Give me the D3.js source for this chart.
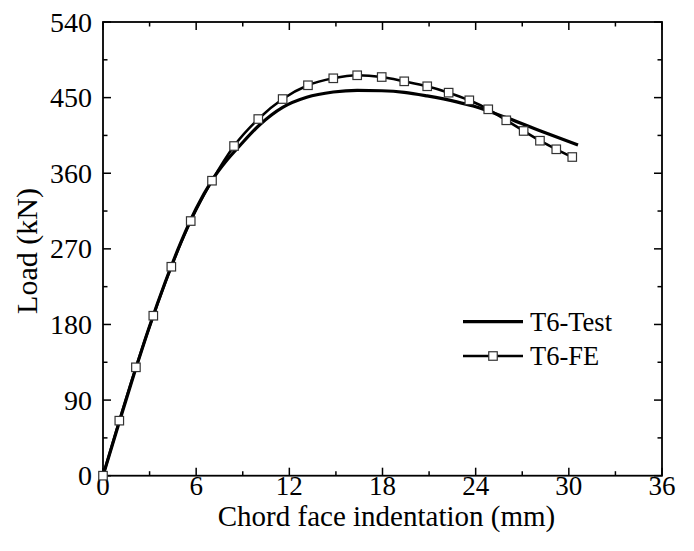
<!DOCTYPE html>
<html>
<head>
<meta charset="utf-8">
<script src="https://cdn.jsdelivr.net/npm/d3@7"></script>
<style>
  html, body { margin: 0; padding: 0; background: #fff; }
  svg { display: block; }
</style>
</head>
<body>
<div id="chart"></div>
<script>
// T6 test curve (mm, kN)
const testX = [0, 1, 2, 3, 4, 5, 6, 7, 8, 8.82, 10.11, 11.57, 13.12, 14.83, 16.37, 17.95, 19.4, 20.88, 22.78, 23.84, 25.99, 28.14, 30.59];
const testY = [0, 61, 121, 178, 230, 277, 318, 351, 376, 393, 418, 438.5, 450.5, 456.7, 458.7, 458.2, 456.3, 452, 445, 440, 426, 410.6, 393.6];

// T6 FE curve (markers)
const feX = [0, 1.05, 2.12, 3.24, 4.4, 5.65, 7.02, 8.44, 10.0, 11.57, 13.2, 14.83, 16.37, 17.95, 19.4, 20.88, 22.26, 23.59, 24.81, 25.97, 27.09, 28.14, 29.19, 30.22];
const feY = [0, 65.5, 129, 190.4, 248.7, 303.1, 351.1, 392.4, 424.5, 448.3, 464.7, 473, 476.6, 474.5, 469.4, 463.5, 455.9, 446.8, 436.1, 423, 410.3, 398.7, 388.5, 379.3];

const xTicks = [0, 6, 12, 18, 24, 30, 36];
const yTicks = [0, 90, 180, 270, 360, 450, 540];
const seriesNames = ["T6-Test", "T6-FE"];

const width = 694;
const height = 551;
const margin = { top: 22, right: 32, bottom: 75.3, left: 103 };
const font = "'Liberation Serif', 'Times New Roman', serif";

const testData = testX.map((x, i) => ({ x, y: testY[i] }));
const feData = feX.map((x, i) => ({ x, y: feY[i] }));

const svg = d3.select("#chart")
  .append("svg")
  .attr("width", width)
  .attr("height", height)
  .attr("viewBox", [0, 0, width, height]);

const x = d3.scaleLinear()
  .domain([0, 36])
  .range([margin.left, width - margin.right]);

const y = d3.scaleLinear()
  .domain([0, 540])
  .range([height - margin.bottom, margin.top]);

const x0 = x.range()[0], x1 = x.range()[1];
const y0 = y.range()[0], y1 = y.range()[1];

// minor ticks every 3 mm / 45 kN, all pointing inward
const xMinor = d3.range(3, 36, 6);
const yMinor = d3.range(45, 540, 90);
const majorLen = 8, minorLen = 4.5;

const axes = svg.append("g").attr("stroke", "#000").attr("stroke-width", 1.5);

axes.selectAll(".xt")
  .data([...xTicks.map(v => [v, majorLen]), ...xMinor.map(v => [v, minorLen])])
  .join("g")
  .each(function ([v, len]) {
    const g = d3.select(this);
    g.append("line").attr("x1", x(v)).attr("x2", x(v)).attr("y1", y0).attr("y2", y0 - len);
    g.append("line").attr("x1", x(v)).attr("x2", x(v)).attr("y1", y1).attr("y2", y1 + len);
  });

axes.selectAll(".yt")
  .data([...yTicks.map(v => [v, majorLen]), ...yMinor.map(v => [v, minorLen])])
  .join("g")
  .each(function ([v, len]) {
    const g = d3.select(this);
    g.append("line").attr("y1", y(v)).attr("y2", y(v)).attr("x1", x0).attr("x2", x0 + len);
    g.append("line").attr("y1", y(v)).attr("y2", y(v)).attr("x1", x1).attr("x2", x1 - len);
  });

svg.append("rect")
  .attr("x", x0).attr("y", y1)
  .attr("width", x1 - x0).attr("height", y0 - y1)
  .attr("fill", "none")
  .attr("stroke", "#000")
  .attr("stroke-width", 1.8);

// tick labels
svg.append("g")
  .selectAll("text")
  .data(xTicks)
  .join("text")
  .attr("x", d => x(d))
  .attr("y", y0 + 19)
  .attr("text-anchor", "middle")
  .attr("font-family", font)
  .attr("font-size", 27)
  .text(d => d);

svg.append("g")
  .selectAll("text")
  .data(yTicks)
  .join("text")
  .attr("x", x0 - 11)
  .attr("y", d => y(d))
  .attr("dy", "0.34em")
  .attr("text-anchor", "end")
  .attr("font-family", font)
  .attr("font-size", 28)
  .text(d => d);

// axis titles
svg.append("text")
  .attr("x", (x0 + x1) / 2 + 4)
  .attr("y", 526)
  .attr("text-anchor", "middle")
  .attr("font-family", font)
  .attr("font-size", 29)
  .text("Chord face indentation (mm)");

svg.append("text")
  .attr("transform", `translate(37,251) rotate(-90)`)
  .attr("text-anchor", "middle")
  .attr("font-family", font)
  .attr("font-size", 30)
  .text("Load (kN)");

// curves
const line = d3.line()
  .x(d => x(d.x))
  .y(d => y(d.y))
  .curve(d3.curveMonotoneX);

svg.append("path")
  .datum(testData)
  .attr("fill", "none")
  .attr("stroke", "#000")
  .attr("stroke-width", 3.2)
  .attr("d", line);

svg.append("path")
  .datum(feData)
  .attr("fill", "none")
  .attr("stroke", "#000")
  .attr("stroke-width", 2.6)
  .attr("d", line);

const ms = 8.5;
svg.append("g")
  .selectAll("rect")
  .data(feData)
  .join("rect")
  .attr("x", d => x(d.x) - ms / 2)
  .attr("y", d => y(d.y) - ms / 2)
  .attr("width", ms)
  .attr("height", ms)
  .attr("fill", "#fff")
  .attr("stroke", "#333")
  .attr("stroke-width", 1.2);

// legend
const legend = svg.append("g").attr("font-family", font).attr("font-size", 26.5);
const legendRows = [321.7, 356];

legend.selectAll("line")
  .data(seriesNames)
  .join("line")
  .attr("x1", 463).attr("x2", 523)
  .attr("y1", (d, i) => legendRows[i])
  .attr("y2", (d, i) => legendRows[i])
  .attr("stroke", "#000")
  .attr("stroke-width", (d, i) => i === 0 ? 3.2 : 2.6);

legend.append("rect")
  .attr("x", 493 - ms / 2)
  .attr("y", legendRows[1] - ms / 2)
  .attr("width", ms).attr("height", ms)
  .attr("fill", "#fff")
  .attr("stroke", "#333")
  .attr("stroke-width", 1.2);

legend.selectAll("text")
  .data(seriesNames)
  .join("text")
  .attr("x", 530)
  .attr("y", (d, i) => legendRows[i] + 9)
  .text(d => d);
</script>
</body>
</html>
